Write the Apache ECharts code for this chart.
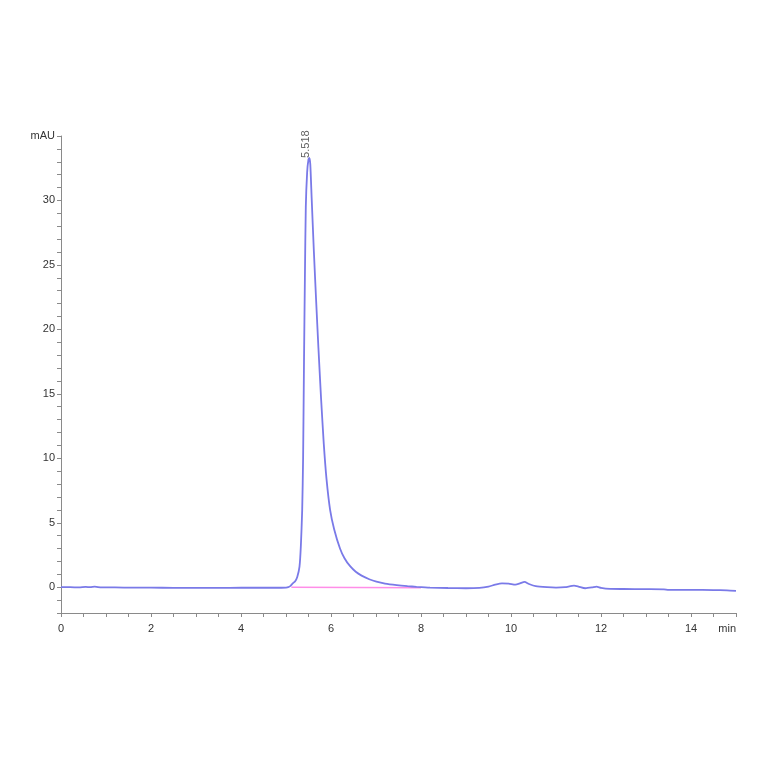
<!DOCTYPE html>
<html>
<head>
<meta charset="utf-8">
<script src="https://cdn.jsdelivr.net/npm/echarts@6/dist/echarts.min.js"></script>
<style>
html,body{margin:0;padding:0;background:#fff;}
#chart{width:764px;height:764px;}
</style>
</head>
<body>
<div id="chart"></div>
<script>
// Retention time (min)
var times = [0, 0.2, 0.4, 0.55, 0.65, 0.75, 0.9, 1.2, 1.6, 2.0, 2.5, 3.0, 3.5, 4.0, 4.5, 4.9, 5.0, 5.05, 5.1, 5.15, 5.2, 5.25, 5.3, 5.33, 5.36, 5.38, 5.40, 5.42, 5.44, 5.47, 5.50, 5.518, 5.54, 5.57, 5.62, 5.67, 5.72, 5.78, 5.84, 5.90, 5.98, 6.07, 6.2, 6.3, 6.42, 6.55, 6.68, 6.85, 7.01, 7.2, 7.46, 7.7, 7.9, 8.2, 8.6, 9.0, 9.3, 9.5, 9.65, 9.8, 9.95, 10.1, 10.2, 10.3, 10.4, 10.55, 10.8, 11.0, 11.2, 11.4, 11.5, 11.65, 11.8, 11.9, 12.0, 12.2, 12.5, 13.0, 13.4, 13.5, 14.0, 14.5, 14.8, 15.0];
// Absorbance (mAU)
var signal = [0.0, 0.0, -0.02, 0.03, 0.0, 0.04, -0.02, -0.02, -0.03, -0.03, -0.05, -0.05, -0.05, -0.04, -0.04, -0.04, -0.03, 0.0, 0.1, 0.3, 0.45, 0.8, 1.6, 3.2, 6.0, 10.0, 17.5, 24.0, 29.5, 32.2, 33.2, 33.3, 32.8, 30.2, 26.0, 22.2, 18.6, 14.6, 11.1, 8.4, 6.0, 4.5, 3.0, 2.25, 1.65, 1.2, 0.9, 0.62, 0.43, 0.28, 0.16, 0.08, 0.03, -0.03, -0.06, -0.08, -0.05, 0.05, 0.2, 0.3, 0.28, 0.2, 0.3, 0.42, 0.25, 0.08, 0.0, -0.03, 0.0, 0.12, 0.05, -0.08, -0.02, 0.05, -0.05, -0.13, -0.14, -0.15, -0.16, -0.2, -0.2, -0.22, -0.24, -0.28];
// Integration baseline
var baseTimes = [5.12, 8.0];
var baseValues = [0.0, -0.04];
// Peak annotation
var peakTime = 5.518;
var peakHeight = 33.3;
var peakLabel = '5.518';

var lineData = times.map(function (t, i) { return [t, signal[i]]; });
var baseData = baseTimes.map(function (t, i) { return [t, baseValues[i]]; });

var chart = echarts.init(document.getElementById('chart'));
var axisCol = '#8a8a8a';
var txtCol = '#333';
chart.setOption({
  animation: false,
  backgroundColor: '#fff',
  grid: { left: 61, right: 28, top: 136, bottom: 151 },
  xAxis: {
    type: 'value', min: 0, max: 15, interval: 0.5,
    axisLine: { show: true, onZero: false, lineStyle: { color: axisCol, width: 1 } },
    axisTick: { show: true, length: 4, lineStyle: { color: axisCol } },
    splitLine: { show: false },
    axisLabel: {
      color: txtCol, fontSize: 11, fontFamily: 'Liberation Sans, Arial', margin: 10,
      showMaxLabel: true, alignMaxLabel: 'right',
      formatter: function (v) {
        if (Math.abs(v - 15) < 1e-6) return 'min';
        if (Math.abs(v % 2) < 1e-6) return String(v);
        return '';
      }
    }
  },
  yAxis: {
    type: 'value', min: -2, max: 35, interval: 1,
    axisLine: { show: true, onZero: false, lineStyle: { color: axisCol, width: 1 } },
    axisTick: { show: true, length: 4, lineStyle: { color: axisCol } },
    splitLine: { show: false },
    axisLabel: {
      color: txtCol, fontSize: 11, fontFamily: 'Liberation Sans, Arial', margin: 6,
      showMaxLabel: true,
      formatter: function (v) {
        if (Math.abs(v - 35) < 1e-6) return 'mAU';
        if (v >= 0 && Math.abs(v % 5) < 1e-6) return String(v);
        return '';
      }
    }
  },
  series: [
    {
      type: 'line', data: baseData, symbol: 'none', silent: true,
      lineStyle: { color: '#ff8ee8', width: 1.6 }, z: 2
    },
    {
      type: 'line', data: lineData, symbol: 'none', silent: true, smooth: 0.2,
      lineStyle: { color: '#7a7ae8', width: 1.8 }, z: 3
    },
    {
      type: 'scatter', data: [[peakTime, peakHeight]], symbolSize: 0, silent: true, z: 4,
      label: {
        show: true, formatter: peakLabel, rotate: 90,
        position: [0, 0], offset: [0, -3], align: 'left', verticalAlign: 'middle',
        color: '#333', fontSize: 11, fontFamily: 'Liberation Sans, Arial'
      }
    }
  ]
});
</script>
</body>
</html>
